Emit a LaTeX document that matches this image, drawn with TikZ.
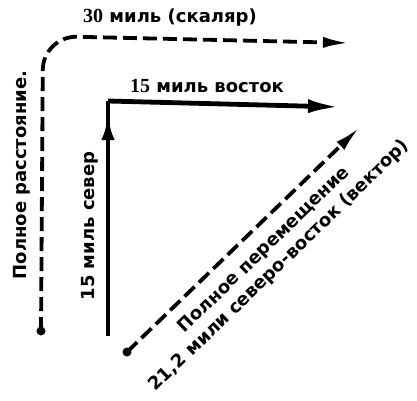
\documentclass[tikz,border=0pt]{standalone}
\usepackage{fontspec}
\setmainfont{DejaVu Sans}
\newfontfamily\digserif{Liberation Serif}
\usetikzlibrary{arrows.meta}
\tikzset{
  lbl/.style={font=\bfseries\fontsize{18}{22}\selectfont, inner sep=0pt},
  dline/.style={line width=3.8pt, dash pattern=on 14pt off 6pt, -{Latex[length=27pt,width=11pt]}},
  sline/.style={line width=4.8pt, -{Latex[length=32pt,width=14pt]}},
  dot/.style={circle, fill=black, inner sep=0pt, minimum size=9pt}
}
\begin{document}
\begin{tikzpicture}[x=1pt,y=-1pt]
\useasboundingbox[fill=white] (0,0) rectangle (417,400);
% scalar path
\node[dot] (d1) at (41,331) {};
\coordinate (c1) at (43,36);
\coordinate (e1) at (350,43);
\draw[dline, rounded corners=34pt] (d1.center) -- (c1) -- (e1);
% vector components
\coordinate (s0) at (108,336);
\coordinate (s1) at (108,101);
\coordinate (s2) at (340,107);
\draw[line width=4.8pt] (s0) -- (s1);
\draw[sline] (s1) -- (s2);
\coordinate (h0) at (108,160);
\coordinate (h1) at (108,114);
\draw[sline, -{Latex[length=26pt,width=13pt]}] (h0) -- (h1);
% displacement
\node[dot] (d2) at (127,352) {};
\coordinate (e2) at (360,127);
\draw[dline] (d2.center) -- (e2);
% labels
\node[lbl] (t1) at (170,18) {{\digserif\fontsize{20}{22}\selectfont 30} миль (скаляр)};
\node[lbl, rotate=90] (t2) at (22,175) {Полное расстояние.};
\node[lbl] (t3) at (207,86) {{\digserif\fontsize{20}{22}\selectfont 15} миль восток};
\node[lbl, rotate=90] (t4) at (90,226) {15 миль север};
\node[lbl, rotate=44, align=center] (t5) at (272,258) {Полное перемещение\\21,2 мили северо-восток (вектор)};
\end{tikzpicture}
\end{document}
